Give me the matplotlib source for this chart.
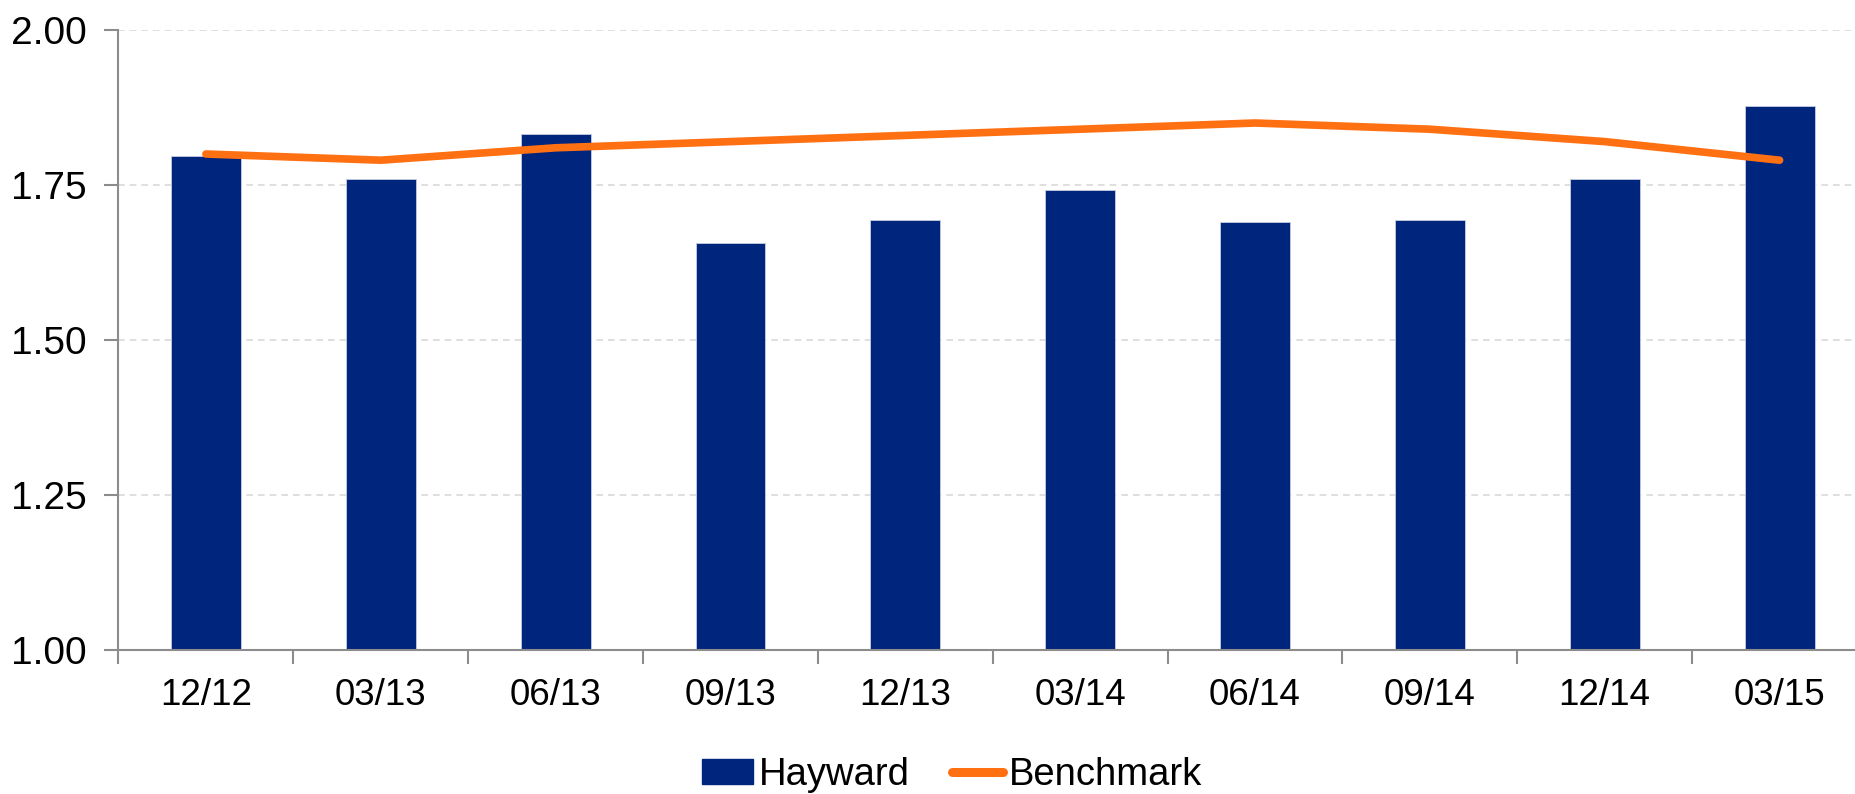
import numpy as np
import matplotlib
matplotlib.use("Agg")
import matplotlib.pyplot as plt
from matplotlib.patches import Patch
from matplotlib.lines import Line2D

plt.rcParams['font.family'] = ['Liberation Sans', 'DejaVu Sans']

quarters = ["12/12", "03/13", "06/13", "09/13", "12/13",
            "03/14", "06/14", "09/14", "12/14", "03/15"]
hayward = [1.796, 1.760, 1.832, 1.656, 1.693, 1.742, 1.690, 1.694, 1.760, 1.878]
benchmark = [1.80, 1.79, 1.81, 1.82, 1.83, 1.84, 1.85, 1.84, 1.82, 1.79]
yticks = [1.00, 1.25, 1.50, 1.75, 2.00]

BAR = "#00257D"
LINE = "#FF7012"
AXIS = "#8C8C8C"

fig = plt.figure(figsize=(18.56, 7.94), dpi=100)
ax = fig.add_axes([118.5 / 1856, 144 / 794, 1748.5 / 1856, 620 / 794])

x = np.arange(len(quarters))
ax.bar(x, hayward, width=0.4, color=BAR, edgecolor="#C8CCE0", linewidth=0.6,
       bottom=0, zorder=2)
ax.plot(x, benchmark, color=LINE, lw=5.5, solid_capstyle="round", zorder=3)

ax.set_xlim(-0.5, len(quarters) - 0.5)
ax.set_ylim(1.0, 2.0)
ax.set_yticks(yticks)
ax.set_yticklabels([f"{v:.2f}" for v in yticks])
ax.yaxis.grid(True, color="#D9D9D9", linestyle=(0, (4, 3)), linewidth=1.2, zorder=0)
ax.set_axisbelow(True)

ax.set_xticks(x)
ax.set_xticklabels(quarters)
ax.set_xticks(np.arange(-0.5, len(quarters), 1.0), minor=True)
ax.tick_params(axis="x", which="major", length=0, pad=20, labelsize=26.5)
ax.tick_params(axis="x", which="minor", length=10, width=1.5, color=AXIS)
ax.tick_params(axis="y", length=10, width=1.5, color=AXIS, pad=13, labelsize=28)

for s in ["top", "right"]:
    ax.spines[s].set_visible(False)
for s in ["left", "bottom"]:
    ax.spines[s].set_color(AXIS)
    ax.spines[s].set_linewidth(1.5)

handles = [Patch(facecolor=BAR, edgecolor=BAR),
           Line2D([0], [0], color=LINE, lw=6.5, solid_capstyle="round")]
fig.legend(handles, ["Hayward", "Benchmark"], loc="center",
           bbox_to_anchor=(952 / 1856, 19 / 794), ncol=2, frameon=False,
           fontsize=27.5, handlelength=1.35, handleheight=0.6,
           handletextpad=0.15, columnspacing=1.1, borderpad=0.1)

fig.savefig("out.png", dpi=100)
